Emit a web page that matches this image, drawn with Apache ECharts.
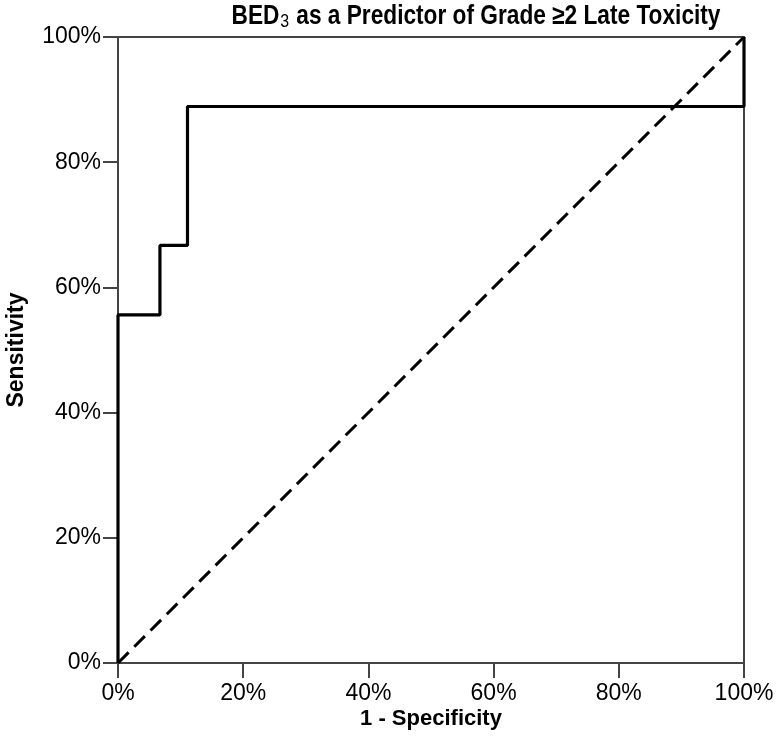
<!DOCTYPE html>
<html><head><meta charset="utf-8">
<script src="https://cdn.jsdelivr.net/npm/echarts@6/dist/echarts.min.js"></script>
<style>html,body{margin:0;padding:0;background:#fff}#c{width:779px;height:750px}</style>
</head><body><div id="c"></div>
<script>
var titleMain = 'BED';
var titleSub = '3';
var titleRest = ' as a Predictor of Grade \u22652 Late Toxicity';
var xTicks = [0, 0.2, 0.4, 0.6, 0.8, 1.0];
var yTicks = [0, 0.2, 0.4, 0.6, 0.8, 1.0];
var rocFPR = [0, 0, 0.067, 0.067, 0.111, 0.111, 1.0, 1.0];
var rocTPR = [0, 0.556, 0.556, 0.667, 0.667, 0.889, 0.889, 1.0];
var refX = [0, 1];
var refY = [0, 1];

var chart = echarts.init(document.getElementById('c'));
var FONT = '"Liberation Sans", Arial, sans-serif';
function pct(v){ return Math.round(v*100) + '%'; }
chart.setOption({
  animation: false,
  backgroundColor: '#fff',
  graphic: [{
    type: 'text', x: 476, y: 3, scaleX: 0.84, z: 10,
    style: {
      text: '{a|' + titleMain + '}{s|' + titleSub + '}{a|' + titleRest + '}',
      align: 'center', verticalAlign: 'top',
      rich: {
        a: {fontFamily: FONT, fontWeight: 'bold', fontSize: 27, fill: '#000', color: '#000'},
        s: {fontFamily: FONT, fontWeight: 'normal', fontSize: 19, fill: '#000', color: '#000', padding: [9,1,0,1]}
      }
    }
  }],
  grid: {left: 118, right: 35, top: 37, bottom: 87, show: true, borderColor: '#444', borderWidth: 2,
         backgroundColor: '#fff', containLabel: false, outerBoundsMode: 'none'},
  xAxis: {
    type: 'value', min: 0, max: 1, interval: 0.2,
    name: '1 - Specificity', nameLocation: 'middle', nameGap: 45, nameMoveOverlap: false,
    nameTextStyle: {fontFamily: FONT, fontWeight: 'bold', fontSize: 22, color: '#000'},
    axisLine: {show: true, lineStyle: {color: '#444', width: 2}},
    axisTick: {show: true, length: 15, lineStyle: {color: '#444', width: 2}},
    axisLabel: {margin: 19, fontFamily: FONT, fontSize: 23, color: '#000', formatter: pct, customValues: xTicks},
    splitLine: {show: false}
  },
  yAxis: {
    type: 'value', min: 0, max: 1, interval: 0.2,
    name: 'Sensitivity', nameLocation: 'middle', nameGap: 90, nameMoveOverlap: false,
    nameTextStyle: {fontFamily: FONT, fontWeight: 'bold', fontSize: 23, color: '#000'},
    axisLine: {show: true, lineStyle: {color: '#444', width: 2}},
    axisTick: {show: true, length: 15, lineStyle: {color: '#444', width: 2}},
    axisLabel: {margin: 17, fontFamily: FONT, fontSize: 23, color: '#000', formatter: pct, customValues: yTicks},
    splitLine: {show: false}
  },
  series: [
    {type: 'line', data: refX.map(function(x,i){return [x, refY[i]];}), symbol: 'none',
     lineStyle: {color: '#000', width: 3, type: [15, 8]}, z: 2},
    {type: 'line', data: rocFPR.map(function(x,i){return [x, rocTPR[i]];}), symbol: 'none',
     lineStyle: {color: '#000', width: 3.2}, z: 3}
  ]
});
</script></body></html>
